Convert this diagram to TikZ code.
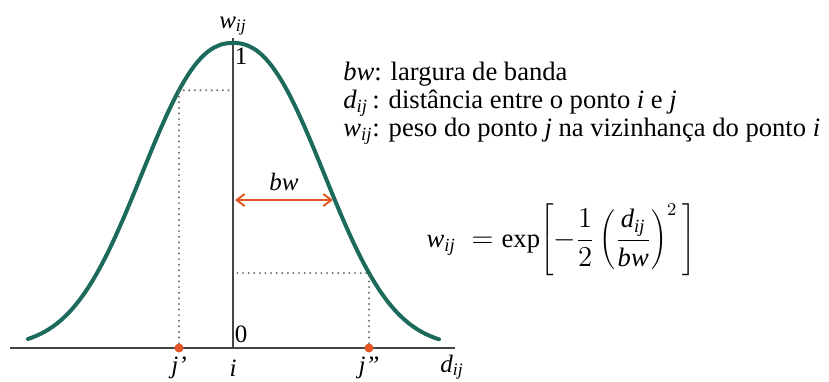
\documentclass[tikz,border=0pt]{standalone}
\usepackage{fontspec}
\setmainfont{Liberation Serif}
\usetikzlibrary{arrows.meta}
\definecolor{curvegreen}{RGB}{28,106,92}
\definecolor{markred}{RGB}{228,86,38}
\definecolor{axisgray}{RGB}{68,68,68}
\definecolor{guidegray}{RGB}{110,110,110}
\tikzset{
  axisline/.style={axisgray, line width=1pt},
  bell/.style={curvegreen, line width=2pt, line cap=round},
  guide/.style={guidegray, line width=1.1pt, line cap=round, dash pattern=on 0pt off 2.8pt},
  markdot/.style={circle, fill=markred, inner sep=0pt, minimum size=4.5pt},
  lbl/.style={font=\fontsize{12.5}{15}\selectfont, inner sep=0pt},
  legend/.style={font=\fontsize{13.3}{16}\selectfont, inner sep=0pt, anchor=base west},
  bwarrow/.style={markred, line width=1pt, {Straight Barb[length=4pt,width=6pt]}-{Straight Barb[length=4pt,width=6pt]}},
}
\begin{document}
\begin{tikzpicture}[x=0.5pt,y=-0.5pt,
  declare function={wgt(\d)=exp(-((abs(\d)+0.01)/117)^2.3);}]
\useasboundingbox (0,0) rectangle (829,381);
% axes
\coordinate (xl) at (10,348);
\coordinate (xr) at (455,348);
\coordinate (o) at (233,348);
\coordinate (top) at (233,38);
\draw[axisline] (xl) -- (xr);
\draw[axisline] (o) -- (top);
% bell curve
\draw[bell] plot[domain=-205:206, samples=120] ({233+\x},{347-304*wgt(\x)});
% points j' and j''
\node[markdot] (jp) at (179,348) {};
\node[markdot] (jpp) at (369,348) {};
\coordinate (cp) at (179,{347-304*wgt(-54)});
\coordinate (cpp) at (369,{347-304*wgt(136)});
\draw[guide] (jp) -- (cp) -- (cp -| o);
\draw[guide] (jpp) -- (cpp) -- (cpp -| o);
% bandwidth
\coordinate (bwl) at (235,200);
\coordinate (bwr) at (333,200);
\draw[bwarrow] (bwl) -- (bwr);
\node[lbl] (bwlab) at (284,182) {\itshape bw};
% axis labels
\node[lbl] (wlab) at (233,26) {$\mathit{w}_{\mathit{ij}}$};
\node[lbl] (one) at (241,56) {1};
\node[lbl] (zero) at (241,334) {0};
\node[lbl] (jplab) at (179,368) {\itshape j'};
\node[lbl] (ilab) at (233,368) {\itshape i};
\node[lbl] (jpplab) at (369,368) {\itshape j''};
\node[lbl] (dlab) at (452,367) {$\mathit{d}_{\mathit{ij}}$};
% legend
\node[legend] (leg1) at (343,80) {\itshape bw\upshape: largura de banda};
\node[legend] (leg2) at (343,108) {$\mathit{d}_{\mathit{ij}}$\,: distância entre o ponto \textit{i} e \textit{j}};
\node[legend] (leg3) at (343,136) {$\mathit{w}_{\mathit{ij}}$: peso do ponto \textit{j} na vizinhança do ponto \textit{i}};
% formula
\node[lbl, font=\fontsize{13.3}{16}\selectfont] (formula) at (561,240)
  {$\displaystyle \mathit{w}_{\mathit{ij}}\;=\mathrm{exp}\!\left[-\frac{1}{2}\left(\frac{\mathit{d}_{\mathit{ij}}}{\mathit{bw}}\right)^{2}\,\right]$};
\end{tikzpicture}
\end{document}
